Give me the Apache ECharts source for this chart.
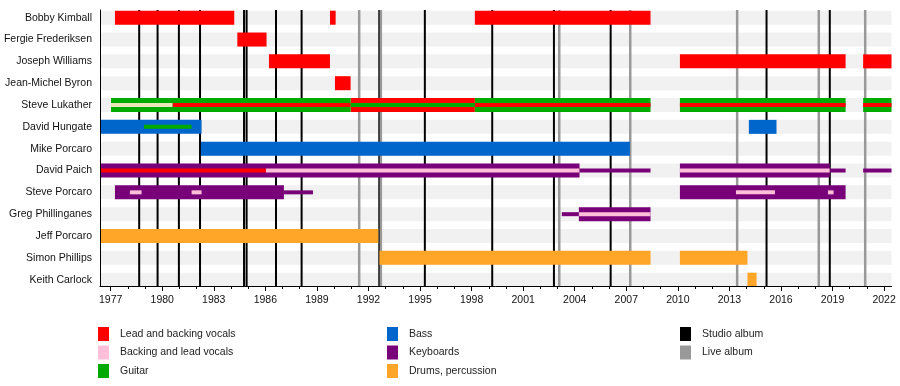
<!DOCTYPE html>
<html>
<head>
<meta charset="utf-8">
<script src="https://cdn.jsdelivr.net/npm/echarts@6/dist/echarts.min.js"></script>
<style>
html,body{margin:0;padding:0;background:#fff;}
#chart{width:900px;height:386px;}
</style>
</head>
<body>
<div id="chart"></div>
<script>
// ---------- data ----------
const members = ["Bobby Kimball","Fergie Frederiksen","Joseph Williams","Jean-Michel Byron","Steve Lukather","David Hungate","Mike Porcaro","David Paich","Steve Porcaro","Greg Phillinganes","Jeff Porcaro","Simon Phillips","Keith Carlock"];
const periodStart = 1976.38;
const periodEnd = 2022.43;
const labelYears = [1977,1980,1983,1986,1989,1992,1995,1998,2001,2004,2007,2010,2013,2016,2019,2022];
const tickYears = [1977,1978,1979,1980,1981,1982,1983,1984,1985,1986,1987,1988,1989,1990,1991,1992,1993,1994,1995,1996,1997,1998,1999,2000,2001,2002,2003,2004,2005,2006,2007,2008,2009,2010,2011,2012,2013,2014,2015,2016,2017,2018,2019,2020,2021,2022];
const studioAlbums = [1978.66,1979.73,1980.97,1982.2,1984.76,1984.91,1986.62,1988.11,1992.63,1995.28,1999.2,2002.79,2006.09,2015.16,2018.84];
const liveAlbums = [1991.46,1992.72,2003.1,2007.23,2013.45,2018.2,2020.9];

// [memberIndex, from, till]
const leadVocals = [[0,1977.25,1984.19],[0,1989.76,1990.09],[0,1998.19,2008.41],[1,1984.37,1986.07],[2,1986.21,1989.76],[2,2010.12,2019.76],[2,2020.78,2022.43],[3,1990.05,1990.96],[4,1990.96,1998.19]];
const guitar = [[4,1977.02,1990.96],[4,1998.19,2008.41],[4,2010.12,2019.76],[4,2020.78,2022.43]];
const bass = [[5,1976.38,1982.29],[5,2014.13,2015.74],[6,1982.25,2007.21]];
const keyboards = [[7,1976.38,2004.28],[7,2010.12,2018.84],[8,1977.25,1987.08],[8,2010.12,2019.76],[9,2004.24,2008.41]];
const drums = [[10,1976.38,1992.57],[11,1992.64,2008.41],[11,2010.12,2014.05],[12,2014.05,2014.58]];
// thin inner bars
const backingVocalsThin = [[7,1986.03,2004.28],[7,2010.12,2018.84],[8,1978.12,1978.8],[8,1981.71,1982.29],[8,2013.38,2015.65],[8,2018.73,2019.06],[9,2004.24,2008.41]];
const backingVocalsLukather = [[4,1977.02,1980.61]];
const leadVocalsThin = [[4,1980.61,1990.96],[4,1998.19,2008.41],[4,2010.12,2019.76],[4,2020.78,2022.43],[7,1976.38,1986.03]];
const guitarThin = [[4,1990.96,1998.19],[5,1978.94,1981.71]];
const keyboardsThin = [[7,2004.28,2008.41],[7,2018.84,2019.76],[7,2020.78,2022.43],[8,1987.08,1988.77],[9,2003.25,2004.24]];

// ---------- styles ----------
const C = {
  lead:'#ff0000', backing:'#ffbfd8', guitar:'#00aa00', bass:'#0066cc',
  keys:'#780078', drums:'#ffa528', studio:'#000000', live:'#999999',
  stripe:'#f1f1f1', cream:'#e9e6b9'
};
const FONT = '"Liberation Sans", Arial, Helvetica, sans-serif';

function barRender(thickness, color) {
  return function (params, api) {
    const row = api.value(0);
    const p0 = api.coord([api.value(1), row]);
    const p1 = api.coord([api.value(2), row]);
    return {
      type: 'rect',
      shape: { x: p0[0], y: p0[1] - thickness / 2, width: p1[0] - p0[0], height: thickness },
      style: { fill: color }
    };
  };
}
function lineRender(color, width) {
  return function (params, api) {
    const x = api.coord([api.value(0), 0])[0];
    const cs = params.coordSys;
    return {
      type: 'line',
      shape: { x1: x, y1: cs.y, x2: x, y2: cs.y + cs.height },
      style: { stroke: color, lineWidth: width }
    };
  };
}
function barSeries(name, data, thickness, color, z) {
  return {
    type: 'custom', name: name, data: data, z: z,
    encode: { x: [1, 2], y: 0 },
    itemStyle: { color: color },
    renderItem: barRender(thickness, color),
    silent: true
  };
}

const bgRows = members.map((m, i) => [i, periodStart, periodEnd]);

const legendText = { fontSize: 10.5, color: '#222', fontFamily: FONT, padding: [0, 0, 0, 6] };
const legendBase = { orient: 'vertical', top: 327, itemWidth: 11, itemHeight: 14, itemGap: 4.5, icon: 'rect', selectedMode: false, textStyle: legendText, padding: 0 };

const option = {
  animation: false,
  backgroundColor: '#fff',
  grid: { left: 100, right: 8.5, top: 10, bottom: 100 },
  xAxis: [
    {
      type: 'value', min: periodStart, max: periodEnd, z: 6, position: 'bottom',
      axisLine: { show: true, onZero: false, lineStyle: { color: '#000', width: 1 } },
      axisTick: { show: true, customValues: tickYears, length: 3, lineStyle: { color: '#000' } },
      axisLabel: { show: true, customValues: labelYears, margin: 9, fontSize: 10.5, color: '#111', fontFamily: FONT, formatter: v => String(Math.round(v)) },
      splitLine: { show: false }
    },
    {
      type: 'value', min: periodStart, max: periodEnd, position: 'bottom', z: 6,
      axisLine: { show: false, onZero: false },
      axisTick: { show: true, customValues: labelYears, length: 5, lineStyle: { color: '#000' } },
      axisLabel: { show: false },
      splitLine: { show: false }
    }
  ],
  yAxis: {
    type: 'value', inverse: true, min: -0.353, max: 12.29, z: 6,
    axisLine: { show: true, onZero: false, lineStyle: { color: '#000', width: 1 } },
    axisTick: { show: false },
    splitLine: { show: false },
    axisLabel: {
      customValues: members.map((m, i) => i),
      formatter: v => members[Math.round(v)],
      fontSize: 10.5, color: '#111', fontFamily: FONT, margin: 8
    }
  },
  legend: [
    Object.assign({ left: 98, data: ['Lead and backing vocals', 'Backing and lead vocals', 'Guitar'] }, legendBase),
    Object.assign({ left: 387, data: ['Bass', 'Keyboards', 'Drums, percussion'] }, legendBase),
    Object.assign({ left: 680, data: ['Studio album', 'Live album'] }, legendBase)
  ],
  series: [
    barSeries('background', bgRows, 14, C.stripe, 1),
    { type: 'custom', name: 'Studio album', z: 2, data: studioAlbums.map(v => [v]), encode: { x: 0 }, itemStyle: { color: C.studio }, renderItem: lineRender(C.studio, 2), silent: true },
    { type: 'custom', name: 'Live album', z: 2, data: liveAlbums.map(v => [v]), encode: { x: 0 }, itemStyle: { color: C.live }, renderItem: lineRender(C.live, 2.5), silent: true },
    barSeries('Lead and backing vocals', leadVocals, 14, C.lead, 3),
    barSeries('Guitar', guitar, 14, C.guitar, 3),
    barSeries('Bass', bass, 14, C.bass, 3),
    barSeries('Keyboards', keyboards, 14, C.keys, 3),
    barSeries('Drums, percussion', drums, 14, C.drums, 3),
    barSeries('Backing and lead vocals', backingVocalsThin, 4, C.backing, 4),
    barSeries('Backing and lead vocals', backingVocalsLukather, 4, C.cream, 4),
    barSeries('Lead and backing vocals', leadVocalsThin, 4, C.lead, 4),
    barSeries('Guitar', guitarThin, 4, C.guitar, 4),
    barSeries('Keyboards', keyboardsThin, 4, C.keys, 4)
  ]
};
// make legend swatch for backing vocals pink
option.series[9].itemStyle = { color: C.backing };

const chart = echarts.init(document.getElementById('chart'), null, { renderer: 'canvas' });
chart.setOption(option);
</script>
</body>
</html>
